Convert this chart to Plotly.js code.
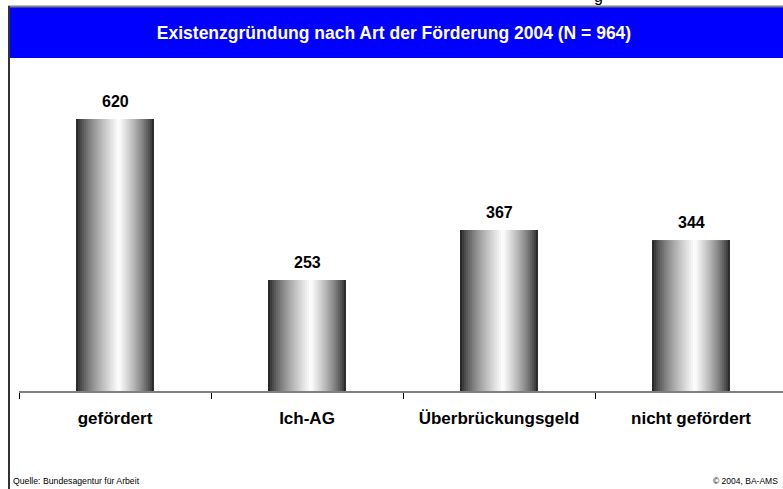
<!DOCTYPE html>
<html>
<head>
<meta charset="utf-8">
<script src="https://cdn.plot.ly/plotly-3.0.1.min.js"></script>
<style>html,body{margin:0;padding:0;background:#fff;}#chart{width:783px;height:489px;}</style>
</head>
<body>
<div id="chart"></div>
<script>
// ---- data ----
const categories = ['gefördert', 'Ich-AG', 'Überbrückungsgeld', 'nicht gefördert'];
const values = [620, 253, 367, 344];
const titleText = 'Existenzgründung nach Art der Förderung 2004 (N = 964)';
const sourceText = 'Quelle: Bundesagentur für Arbeit';
const copyrightText = '© 2004, BA-AMS';

// ---- styling helpers ----
const W = 783, H = 489;
const px = v => v / W;            // x pixel -> paper
const py = v => (H - v) / H;      // y pixel (from top) -> paper
const FONT = 'Arial, "Liberation Sans", Helvetica, sans-serif';

const barWidth = 0.406;           // in category units
const nStripes = 40;
const stripeW = barWidth / nStripes;
function shade(t) {
  // metallic cylinder: dark edges, bright centre slightly right of middle
  const c = 0.55;
  const d = t < c ? (c - t) / c : (t - c) / (1 - c);
  const k = Math.pow(Math.max(0, 1 - d), 0.7);
  const l = Math.round(25 + 230 * k);
  return `rgb(${l},${l},${l})`;
}

const traces = [];
for (let i = 0; i < nStripes; i++) {
  const t = (i + 0.5) / nStripes;
  traces.push({
    type: 'bar',
    x: categories,
    y: values,
    offset: -barWidth / 2 + i * stripeW,
    width: i === nStripes - 1 ? stripeW : stripeW * 1.6,
    marker: { color: shade(t), line: { width: 0 } },
    hoverinfo: 'skip',
    showlegend: false
  });
}

const annotations = categories.map((c, i) => ({
  x: c, y: values[i], xref: 'x', yref: 'y',
  text: String(values[i]),
  showarrow: false, yanchor: 'bottom', yshift: 7,
  font: { family: FONT, size: 16, color: '#000', weight: 'bold' }
}));
annotations.push({
  xref: 'paper', yref: 'paper', x: px(11), y: py(481),
  xanchor: 'left', yanchor: 'middle', showarrow: false,
  text: sourceText, font: { family: FONT, size: 8.7, color: '#000' }
});
annotations.push({
  xref: 'paper', yref: 'paper', x: px(780), y: py(481),
  xanchor: 'right', yanchor: 'middle', showarrow: false,
  text: copyrightText, font: { family: FONT, size: 8.5, color: '#000' }
});
annotations.push({
  xref: 'paper', yref: 'paper', x: px(598), y: 1,
  xanchor: 'center', yanchor: 'top', yshift: 14, showarrow: false,
  text: 'g', font: { family: FONT, size: 16, color: '#000' }
});

const layout = {
  width: W, height: H,
  margin: { l: 0, r: 0, t: 0, b: 0 },
  paper_bgcolor: '#fff', plot_bgcolor: 'rgba(0,0,0,0)',
  barmode: 'overlay',
  title: {
    text: titleText, x: px(394), xanchor: 'center', y: py(33), yanchor: 'middle',
    font: { family: FONT, size: 17.5, color: '#fff', weight: 'bold' }
  },
  xaxis: {
    type: 'category', domain: [px(19), 1], range: [-0.5, -0.5 + (783 - 19) / 192],
    showline: true, linecolor: '#808080', linewidth: 2,
    ticks: 'outside', tickson: 'boundaries', ticklen: 6, tickcolor: '#000', tickwidth: 1,
    showgrid: false, zeroline: false, fixedrange: true,
    ticklabelstandoff: 11,
    tickfont: { family: FONT, size: 17, color: '#000', weight: 'bold' }
  },
  yaxis: {
    visible: false, domain: [py(391), py(58)], range: [0, 333 / 0.4387],
    showgrid: false, zeroline: false, fixedrange: true
  },
  shapes: [
    { type: 'rect', xref: 'paper', yref: 'paper', x0: px(10), x1: 1, y0: py(58), y1: py(7),
      fillcolor: '#0000ff', line: { width: 0 }, layer: 'below' },
    { type: 'line', xref: 'paper', yref: 'paper', x0: px(8), x1: 1, y0: py(6.5), y1: py(6.5),
      line: { color: '#808080', width: 2 } },
    { type: 'line', xref: 'paper', yref: 'paper', x0: px(9), x1: px(9), y0: 0, y1: py(6),
      line: { color: '#333333', width: 2 } }
  ],
  annotations: annotations
};

Plotly.newPlot('chart', traces, layout, { staticPlot: true, displayModeBar: false });
</script>
</body>
</html>
